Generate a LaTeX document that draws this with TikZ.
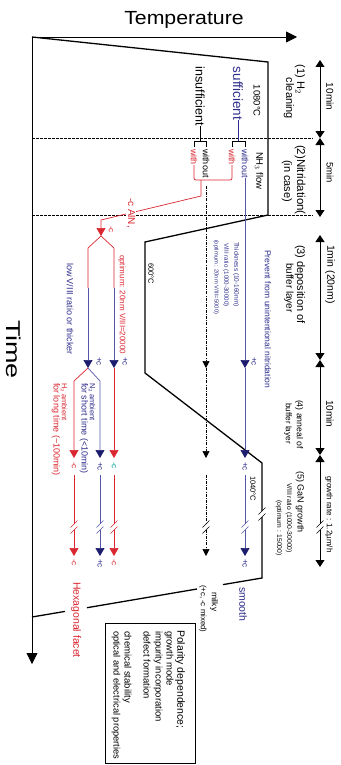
\documentclass[tikz,border=0pt]{standalone}
\usepackage{fontspec}
\setmainfont{Liberation Sans}
\usetikzlibrary{arrows.meta}
\definecolor{cred}{RGB}{218,38,48}
\definecolor{cblue}{RGB}{85,85,170}
\definecolor{cnavy}{RGB}{28,28,110}
\definecolor{ctb}{RGB}{45,45,140}
\definecolor{cteal}{RGB}{0,155,155}
\newcommand{\fsz}[1]{\fontsize{#1}{#1}\selectfont}
\newcommand{\brkmark}[3]{%
  \draw[#3, line width=0.6pt] ({#1-3.5},{#2-3+3.5}) -- ({#1+3.5},{#2-3-3.5});
  \draw[#3, line width=0.6pt] ({#1-3.5},{#2+3+3.5}) -- ({#1+3.5},{#2+3-3.5});
}
\begin{document}
\begin{tikzpicture}[x=1pt,y=-1pt,
  rt/.style={rotate=-90,anchor=west,inner sep=0pt,outer sep=0pt},
  thin/.style={line width=0.6pt},
  bl/.style={cblue,line width=0.7pt},
  rl/.style={cred,line width=0.7pt},
  dl/.style={black,line width=0.7pt,dash pattern=on 3pt off 1.2pt on 0.8pt off 1.2pt},
  ab/.style={-{Triangle[width=9pt,length=8pt,color=cnavy]}},
  ar/.style={-{Triangle[width=9pt,length=8pt,color=cred]}},
  ak/.style={-{Triangle[width=7pt,length=7pt,color=black]}},
  tb/.style={line width=0.8pt,{Triangle[width=9pt,length=7pt]}-{Triangle[width=9pt,length=7pt]}},
  dsh/.style={line width=0.9pt,dash pattern=on 2.5pt off 1.5pt},
  prof/.style={line width=1.3pt,line join=miter}]
\useasboundingbox (0,0) rectangle (340,765);

% axes
\coordinate (O) at (32,37);
\coordinate (Tend) at (297,37);
\coordinate (Yend) at (32,664);
\draw[line width=0.8pt,-{Triangle[width=11pt,length=11pt]}] (O) -- (Tend);
\draw[line width=0.8pt,-{Triangle[width=11pt,length=11pt]}] (O) -- (Yend);
\node (temp) at (184,20) {\fsz{19}\scalebox{1.12}[1]{Temperature}};
\node[rt] (time) at (14,320) {\fsz{20}\scalebox{1.35}[1]{Time}};

% dashed separators
\coordinate (d1a) at (32,138); \coordinate (d1b) at (313,138);
\coordinate (d2a) at (32,215); \coordinate (d2b) at (313,215);
\draw[dsh] (d1a) -- (d1b);
\draw[dsh] (d2a) -- (d2b);

% temperature profile
\coordinate (p1) at (268,62);
\coordinate (p2) at (268,215);
\coordinate (p3) at (145,242);
\coordinate (p4) at (145,373);
\coordinate (p5) at (262,463);
\coordinate (p6a) at (262,511);
\coordinate (p6b) at (262,517);
\coordinate (p7) at (262,578);
\coordinate (p8) at (223,584.6);
\coordinate (p9) at (197,589.0);
\coordinate (p10) at (87,607.7);
\coordinate (p11) at (65,611.4);
\coordinate (p12) at (32,617);
\draw[prof] (O) -- (p1) -- (p2) -- (p3) -- (p4) -- (p5) -- (p6a);
\draw[prof] (p6b) -- (p7) -- (p8);
\draw[prof] (p9) -- (p10);
\draw[prof] (p11) -- (p12);
\brkmark{262}{514}{black}

% time bar
\coordinate (b1) at (320,60);
\coordinate (b2) at (320,138);
\coordinate (b3) at (320,217);
\coordinate (b4) at (320,235);
\coordinate (b5) at (320,360);
\coordinate (b6) at (320,455);
\coordinate (b7a) at (320,524);
\coordinate (b7b) at (320,530);
\coordinate (b8) at (320,567);
\draw[tb] (b1) -- (b2);
\draw[tb] (b2) -- (b3);
\draw[tb] (b4) -- (b5);
\draw[tb] (b5) -- (b6);
\draw[line width=0.8pt,{Triangle[width=9pt,length=7pt]}-] (b6) -- (b7a);
\draw[line width=0.8pt,-{Triangle[width=9pt,length=7pt]}] (b7b) -- (b8);
\brkmark{320}{527}{black}
\node[rt] (t1) at (330,83) {\fsz{10}10min};
\node[rt] (t2) at (330,162) {\fsz{9.5}5min};
\node[rt] (t3) at (330,245) {\fsz{10.5}1min (20nm)};
\node[rt] (t4) at (330,400) {\fsz{10}10min};
\node[rt] (t5) at (329,476) {\fsz{8}growth rate : 1.2µm/h};

% step labels
\node[rt] (s1a) at (300,65) {\fsz{11}(1) H$_2$};
\node[rt] (s1b) at (289,78) {\fsz{11}cleaning};
\node[rt] (s2a) at (300,145) {\fsz{11.5}(2)Nitridation(};
\node[rt] (s2b) at (287,160) {\fsz{11}(in case)};
\node[rt] (s3a) at (300,245) {\fsz{11}(3) deposition of};
\node[rt] (s3b) at (289,263) {\fsz{10}buffer layer};
\node[rt] (s4a) at (299,400) {\fsz{8.7}(4) anneal of};
\node[rt] (s4b) at (288,403) {\fsz{8.2}buffer layer};
\node[rt] (s5a) at (300,471) {\fsz{9}(5) GaN growth};
\node[rt] (s5b) at (289,483) {\fsz{6.8}V/III ratio (1000-30000)};
\node[rt] (s5c) at (279,500) {\fsz{6.8}(optimum : 15000)};

% temperatures
\node[rt] (c1080) at (257,85) {\fsz{9.5}1080°C};
\node[rt] (c600) at (151,263) {\fsz{7.5}600°C};
\node[rt] (c1040) at (253,476) {\fsz{7.5}1040°C};
\node[rt] (nh3) at (259,152) {\fsz{9.5}NH$_3$ flow};

% sufficient / insufficient
\node[rt,text=ctb] (suf) at (238,67) {\fsz{13.5}sufficient};
\node[rt] (insuf) at (200,67) {\fsz{12.5}insufficient};
\coordinate (sufb) at (238,141);
\coordinate (insb) at (200,141);
\draw[thin,ctb] (suf.east) -- (sufb);
\draw[thin] (insuf.east) -- (insb);
\draw[thin] (232,147) -- (232,141) -- (245,141) -- (245,147);
\draw[thin] (194,147) -- (194,141) -- (206,141) -- (206,147);
\node[rt,text=cred] (w1) at (232,149) {\fsz{9}with};
\node[rt,text=ctb] (wo1) at (245,149) {\fsz{9}without};
\node[rt,text=cred] (w2) at (194,149) {\fsz{9}with};
\node[rt] (wo2) at (206,149) {\fsz{9}without};

% red route (with -> -c AlN)
\coordinate (rj) at (201,180);
\coordinate (rs) at (201,196);
\coordinate (rk) at (101,220);
\coordinate (rtip) at (101,236);
\draw[rl,rounded corners=2pt] (w1.east) |- (rj);
\draw[rl,rounded corners=2pt] (w2.east) |- (rj);
\draw[rl,ar] (rj) -- (rs) -- (rk) -- (rtip);
\node[rt,text=cred,fill=white,inner sep=1pt] (aln) at (131,197) {\fsz{10}-c AlN,};
\node[rt,text=cred] (lc0) at (111,226) {\fsz{8}-c};

% left branches
\coordinate (yl) at (88,248); \coordinate (yr) at (114,248);
\coordinate (yl2) at (88,288); \coordinate (yr2) at (114,288);
\coordinate (ql) at (88,368); \coordinate (qr) at (114,368);
\draw[rl] (rtip) -- (yl) -- (yl2);
\draw[rl] (rtip) -- (yr) -- (yr2);
\draw[bl,ab] (yl2) -- (ql);
\draw[bl,ab] (yr2) -- (qr);
\node[rt,text=ctb] (lc1) at (99,357) {\fsz{8}+c};
\node[rt,text=ctb] (lc2) at (125,357) {\fsz{8}+c};
\node[rt,text=cred] (opt1) at (122,255) {\fsz{8}optimum: 20nm V/III=20000};
\node[rt,text=ctb] (low) at (70,263) {\fsz{9}low V/III ratio or thicker};

\coordinate (g1) at (74,381); \coordinate (g2) at (100,381);
\coordinate (h1) at (74,458); \coordinate (h2) at (100,458); \coordinate (h3) at (114,458);
\draw[rl,ar] (ql) -- (g1) -- (h1);
\draw[bl,ab] (ql) -- (g2) -- (h2);
\draw[rl,ar] (qr) -- (h3);
\node[rt,text=cred] (h2amb) at (64,383) {\fsz{7.5}H$_2$ ambient};
\node[rt,text=cred] (h2long) at (56,383) {\fsz{9}for long time (\textasciitilde100min)};
\node[rt,text=ctb] (n2amb) at (92,383) {\fsz{7.5}N$_2$ ambient};
\node[rt,text=ctb] (n2short) at (84,383) {\fsz{9}for short time (<10min)};
\node[rt,text=cred] (m1) at (74,462) {\fsz{8}-c};
\node[rt,text=ctb] (m2) at (100,462) {\fsz{8}+c};
\node[rt,text=cteal] (m3) at (114,462) {\fsz{8}-c};

% lower parts with breaks
\draw[rl] (74,475) -- (74,524); \draw[rl,ar] (74,530) -- (74,556); \brkmark{74}{527}{cred}
\draw[bl] (100,475) -- (100,524); \draw[bl,ab] (100,530) -- (100,556); \brkmark{100}{527}{cblue}
\draw[rl] (114,475) -- (114,524); \draw[rl,ar] (114,530) -- (114,556); \brkmark{114}{527}{cred}
\node[rt,text=cred] (n1) at (74,559) {\fsz{8}-c};
\node[rt,text=ctb] (n2) at (100,559) {\fsz{8}+c};
\node[rt,text=cred] (n3) at (114,559) {\fsz{8}-c};

% dash-dot column (insufficient, without)
\coordinate (k0) at (206,186);
\coordinate (k1) at (206,368);
\coordinate (k2) at (206,458);
\draw[dl,ak] (k0) -- (k1);
\draw[dl,ak] (k1) -- (k2);
\draw[dl] (206,475) -- (206,524);
\draw[dl,ak] (206,530) -- (206,556);
\brkmark{206}{527}{black}

% blue column (sufficient, without)
\coordinate (u1) at (245,368);
\coordinate (u2) at (245,458);
\draw[bl,ab] (wo1.east) -- (u1);
\draw[bl,ab] (u1) -- (u2);
\node[rt,text=ctb] (uc1) at (254,357) {\fsz{8}+c};
\node[rt,text=ctb] (uc2) at (245,462) {\fsz{8}+c};
\draw[bl] (245,475) -- (245,524);
\draw[bl,ab] (245,530) -- (245,556);
\brkmark{245}{527}{cblue}
\node[rt,text=ctb] (uc3) at (245,559) {\fsz{8}+c};
\node[rt,text=ctb] (thick) at (236,242) {\fsz{6.5}Thickness (10-160nm)};
\node[rt,text=ctb] (vr1) at (226,243) {\fsz{6.2}V/III ratio (1000-30000)};
\node[rt,text=ctb] (vr2) at (216,240) {\fsz{5.8}(optimum : 20nm V/III=5000)};
\node[rt,text=ctb] (prev) at (268,250) {\fsz{8.5}Prevent from unintentional nitridation};

% results
\node[rt,text=cred] (hex) at (76,582) {\fsz{10.5}Hexagonal facet};
\node[rt,text=ctb] (smooth) at (243,587) {\fsz{10.5}smooth};
\node[rt] (milky) at (214,592) {\fsz{8.5}milky};
\node[rt] (mixed) at (203,585) {\fsz{7.8}(+c, -c mixed)};

% box
\node[draw,line width=0.7pt,minimum width=90pt,minimum height=140pt,inner sep=0pt] (box) at (150,693) {};
\node[rt] (bx1) at (180,630) {\fsz{10.5}Polarity dependence;};
\node[rt] (bx2) at (169,631) {\fsz{9.5}growth mode};
\node[rt] (bx3) at (158,631) {\fsz{9.5}impurity incorporation};
\node[rt] (bx4) at (147,631) {\fsz{9.5}defect formation};
\node[rt] (bx5) at (127,631) {\fsz{9.5}chemical stability};
\node[rt] (bx6) at (116,631) {\fsz{9.3}optical and electrical properties};
\end{tikzpicture}
\end{document}
